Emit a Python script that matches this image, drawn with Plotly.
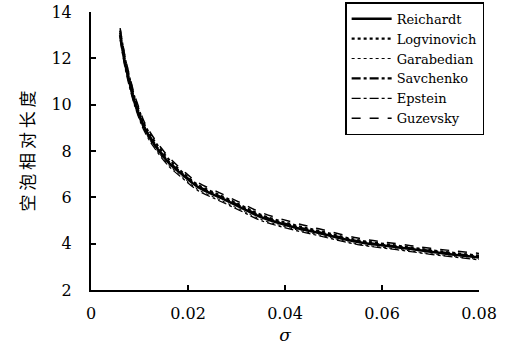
import plotly.graph_objects as go

sigma = [0.006, 0.007, 0.008, 0.009, 0.010, 0.011, 0.013, 0.016, 0.019, 0.022,
         0.027, 0.031, 0.035, 0.042, 0.047, 0.055, 0.063, 0.070, 0.080]

reichardt   = [13.0, 11.8, 10.9, 10.1, 9.5, 9.0, 8.3, 7.5, 6.95, 6.45,
               5.95, 5.55, 5.15, 4.70, 4.46, 4.07, 3.85, 3.65, 3.40]
logvinovich = [13.2, 12.0, 11.1, 10.3, 9.7, 9.15, 8.45, 7.65, 7.05, 6.55,
               6.05, 5.65, 5.25, 4.80, 4.55, 4.15, 3.92, 3.72, 3.48]
garabedian  = [12.9, 11.7, 10.8, 10.0, 9.4, 8.9, 8.2, 7.4, 6.85, 6.35,
               5.85, 5.45, 5.05, 4.62, 4.38, 3.99, 3.77, 3.57, 3.32]
savchenko   = [13.1, 11.9, 11.0, 10.2, 9.6, 9.05, 8.35, 7.55, 7.0, 6.5,
               6.0, 5.6, 5.2, 4.75, 4.50, 4.11, 3.88, 3.69, 3.44]
epstein     = [12.8, 11.6, 10.7, 9.95, 9.35, 8.85, 8.15, 7.35, 6.8, 6.3,
               5.8, 5.4, 5.0, 4.58, 4.34, 3.96, 3.74, 3.54, 3.30]
guzevsky    = [13.3, 12.1, 11.2, 10.4, 9.8, 9.25, 8.55, 7.75, 7.15, 6.65,
               6.15, 5.75, 5.35, 4.90, 4.64, 4.24, 4.00, 3.80, 3.58]

series = [
    ("Reichardt", reichardt, "solid", 2.5),
    ("Logvinovich", logvinovich, "dot", 2.2),
    ("Garabedian", garabedian, "dot", 1.0),
    ("Savchenko", savchenko, "dashdot", 2.2),
    ("Epstein", epstein, "dashdot", 1.2),
    ("Guzevsky", guzevsky, "dash", 1.5),
]

fig = go.Figure()
for name, vals, dash, w in series:
    fig.add_trace(go.Scatter(x=sigma, y=vals, mode="lines", name=name,
                             line=dict(color="black", dash=dash, width=w, shape="spline")))

font_serif = "DejaVu Serif"
fig.update_layout(
    width=509, height=348,
    margin=dict(l=91, r=30, t=12, b=58, autoexpand=False),
    paper_bgcolor="white", plot_bgcolor="white",
    font=dict(family=font_serif, size=16, color="black"),
    showlegend=True,
    legend=dict(x=0.655, y=1.035, xanchor="left", yanchor="top",
                bordercolor="black", borderwidth=1.5, bgcolor="white",
                font=dict(family=font_serif, size=13, color="black"),
                tracegroupgap=0, itemwidth=40),
    xaxis=dict(range=[0, 0.08], tickvals=[0, 0.02, 0.04, 0.06, 0.08],
               ticktext=["0", "0.02", "0.04", "0.06", "0.08"],
               ticks="inside", ticklen=5, tickwidth=1.5, tickcolor="black",
               ticklabelstandoff=8, automargin=False,
               showline=True, linecolor="black", linewidth=2, showgrid=False, zeroline=False,
               title=dict(text="<i>σ</i>", font=dict(family=font_serif, size=17), standoff=7)),
    yaxis=dict(range=[2, 14], tickvals=[2, 4, 6, 8, 10, 12, 14],
               ticks="inside", ticklen=5, tickwidth=1.5, tickcolor="black",
               ticklabelstandoff=14, automargin=False,
               showline=True, linecolor="black", linewidth=2, showgrid=False, zeroline=False,
               title=dict(text="空 泡 相 对 长 度", font=dict(family="Noto Sans CJK SC", size=17), standoff=12)),
)

fig.write_html("out.html")
